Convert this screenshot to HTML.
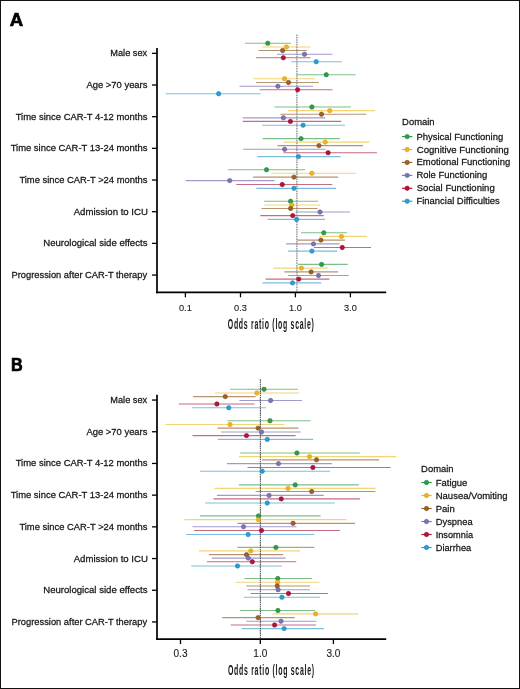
<!DOCTYPE html>
<html><head><meta charset="utf-8"><style>
html,body{margin:0;padding:0;background:#fff;}
body{width:520px;height:689px;overflow:hidden;}
.frame{position:absolute;left:0;top:0;width:520px;height:689px;box-sizing:border-box;border:1px solid #111;background:#fff;}
svg{position:absolute;left:0;top:0;will-change:transform;}
</style></head><body>
<div class="frame"></div>
<svg width="520" height="689" viewBox="0 0 520 689">
<text transform="translate(9.85,25.5) scale(1.0,1)" font-family="Liberation Sans" font-weight="bold" font-size="18.6" fill="#000" stroke="#000" stroke-width="0.7">A</text>
<line x1="245" y1="43.25" x2="291" y2="43.25" stroke="#7cbf86" stroke-width="1.15"/>
<line x1="262.5" y1="47" x2="310.6" y2="47" stroke="#f3d476" stroke-width="1.15"/>
<line x1="258.5" y1="50.5" x2="306.9" y2="50.5" stroke="#b69370" stroke-width="1.15"/>
<line x1="276.9" y1="54.25" x2="332.5" y2="54.25" stroke="#a09acc" stroke-width="1.15"/>
<line x1="256" y1="57.75" x2="310.6" y2="57.75" stroke="#c66b82" stroke-width="1.15"/>
<line x1="291.25" y1="61.75" x2="341.9" y2="61.75" stroke="#7abfdf" stroke-width="1.15"/>
<line x1="296.9" y1="74.75" x2="355.6" y2="74.75" stroke="#7cbf86" stroke-width="1.15"/>
<line x1="253.5" y1="78.75" x2="315" y2="78.75" stroke="#f3d476" stroke-width="1.15"/>
<line x1="256" y1="82.5" x2="318.75" y2="82.5" stroke="#b69370" stroke-width="1.15"/>
<line x1="239.4" y1="86.25" x2="313.1" y2="86.25" stroke="#a09acc" stroke-width="1.15"/>
<line x1="259.75" y1="89.75" x2="332.5" y2="89.75" stroke="#c66b82" stroke-width="1.15"/>
<line x1="165.8" y1="93.75" x2="260.6" y2="93.75" stroke="#7abfdf" stroke-width="1.15"/>
<line x1="274.4" y1="107" x2="351" y2="107" stroke="#7cbf86" stroke-width="1.15"/>
<line x1="288.1" y1="110.6" x2="375" y2="110.6" stroke="#f3d476" stroke-width="1.15"/>
<line x1="280.25" y1="114.2" x2="366.25" y2="114.2" stroke="#b69370" stroke-width="1.15"/>
<line x1="242.75" y1="117.8" x2="325.25" y2="117.8" stroke="#a09acc" stroke-width="1.15"/>
<line x1="242.75" y1="121.4" x2="341.25" y2="121.4" stroke="#c66b82" stroke-width="1.15"/>
<line x1="262.25" y1="125.2" x2="345" y2="125.2" stroke="#7abfdf" stroke-width="1.15"/>
<line x1="262.75" y1="138.6" x2="339.75" y2="138.6" stroke="#7cbf86" stroke-width="1.15"/>
<line x1="283.5" y1="142.1" x2="369.4" y2="142.1" stroke="#f3d476" stroke-width="1.15"/>
<line x1="277.5" y1="145.6" x2="363.1" y2="145.6" stroke="#b69370" stroke-width="1.15"/>
<line x1="243.1" y1="149.25" x2="325.6" y2="149.25" stroke="#a09acc" stroke-width="1.15"/>
<line x1="283.5" y1="152.75" x2="376.9" y2="152.75" stroke="#c66b82" stroke-width="1.15"/>
<line x1="257.25" y1="156.6" x2="340.6" y2="156.6" stroke="#7abfdf" stroke-width="1.15"/>
<line x1="228.1" y1="169.75" x2="305" y2="169.75" stroke="#7cbf86" stroke-width="1.15"/>
<line x1="271.25" y1="173.25" x2="355.6" y2="173.25" stroke="#f3d476" stroke-width="1.15"/>
<line x1="253.1" y1="177.1" x2="338.1" y2="177.1" stroke="#b69370" stroke-width="1.15"/>
<line x1="185.6" y1="180.6" x2="274.4" y2="180.6" stroke="#a09acc" stroke-width="1.15"/>
<line x1="236.25" y1="184.5" x2="332.25" y2="184.5" stroke="#c66b82" stroke-width="1.15"/>
<line x1="256.25" y1="188.3" x2="336" y2="188.3" stroke="#7abfdf" stroke-width="1.15"/>
<line x1="264" y1="201.25" x2="318.1" y2="201.25" stroke="#7cbf86" stroke-width="1.15"/>
<line x1="264.4" y1="205" x2="320" y2="205" stroke="#f3d476" stroke-width="1.15"/>
<line x1="261.5" y1="208.5" x2="317.5" y2="208.5" stroke="#b69370" stroke-width="1.15"/>
<line x1="295.6" y1="212" x2="350" y2="212" stroke="#a09acc" stroke-width="1.15"/>
<line x1="260.25" y1="215.6" x2="323.75" y2="215.6" stroke="#c66b82" stroke-width="1.15"/>
<line x1="267.5" y1="219.4" x2="325" y2="219.4" stroke="#7abfdf" stroke-width="1.15"/>
<line x1="301" y1="232.75" x2="346.9" y2="232.75" stroke="#7cbf86" stroke-width="1.15"/>
<line x1="319.4" y1="236.4" x2="366.9" y2="236.4" stroke="#f3d476" stroke-width="1.15"/>
<line x1="297.25" y1="240.1" x2="345" y2="240.1" stroke="#b69370" stroke-width="1.15"/>
<line x1="286" y1="243.9" x2="339.75" y2="243.9" stroke="#a09acc" stroke-width="1.15"/>
<line x1="314" y1="247.5" x2="371" y2="247.5" stroke="#c66b82" stroke-width="1.15"/>
<line x1="288.1" y1="251.1" x2="337.25" y2="251.1" stroke="#7abfdf" stroke-width="1.15"/>
<line x1="298.1" y1="264.4" x2="347.75" y2="264.4" stroke="#7cbf86" stroke-width="1.15"/>
<line x1="273.1" y1="268.1" x2="327.75" y2="268.1" stroke="#f3d476" stroke-width="1.15"/>
<line x1="284.4" y1="271.9" x2="338.1" y2="271.9" stroke="#b69370" stroke-width="1.15"/>
<line x1="288.1" y1="275.5" x2="348.75" y2="275.5" stroke="#a09acc" stroke-width="1.15"/>
<line x1="265.6" y1="279.1" x2="329.4" y2="279.1" stroke="#c66b82" stroke-width="1.15"/>
<line x1="262.5" y1="282.9" x2="321.25" y2="282.9" stroke="#7abfdf" stroke-width="1.15"/>
<line x1="296.9" y1="34.4" x2="296.9" y2="292.3" stroke="#7c7c7c" stroke-width="1.15" stroke-dasharray="1.6,0.8"/>
<circle cx="267.75" cy="43.25" r="2.2" fill="#2e9e4c" stroke="#23803c" stroke-width="0.6"/>
<circle cx="286.5" cy="47" r="2.2" fill="#f0b323" stroke="#d99d12" stroke-width="0.6"/>
<circle cx="282.6" cy="50.5" r="2.2" fill="#9a6226" stroke="#7e4e1c" stroke-width="0.6"/>
<circle cx="304.5" cy="54.25" r="2.2" fill="#7d74b4" stroke="#655e9e" stroke-width="0.6"/>
<circle cx="283.3" cy="57.75" r="2.2" fill="#b4123a" stroke="#920d2e" stroke-width="0.6"/>
<circle cx="316.25" cy="61.75" r="2.2" fill="#2b9dd2" stroke="#1f86b8" stroke-width="0.6"/>
<circle cx="326.25" cy="74.75" r="2.2" fill="#2e9e4c" stroke="#23803c" stroke-width="0.6"/>
<circle cx="284.6" cy="78.75" r="2.2" fill="#f0b323" stroke="#d99d12" stroke-width="0.6"/>
<circle cx="288.5" cy="82.5" r="2.2" fill="#9a6226" stroke="#7e4e1c" stroke-width="0.6"/>
<circle cx="277.9" cy="86.25" r="2.2" fill="#7d74b4" stroke="#655e9e" stroke-width="0.6"/>
<circle cx="297.6" cy="89.75" r="2.2" fill="#b4123a" stroke="#920d2e" stroke-width="0.6"/>
<circle cx="218.65" cy="93.75" r="2.2" fill="#2b9dd2" stroke="#1f86b8" stroke-width="0.6"/>
<circle cx="311.9" cy="107" r="2.2" fill="#2e9e4c" stroke="#23803c" stroke-width="0.6"/>
<circle cx="329.75" cy="110.6" r="2.2" fill="#f0b323" stroke="#d99d12" stroke-width="0.6"/>
<circle cx="321.5" cy="114.2" r="2.2" fill="#9a6226" stroke="#7e4e1c" stroke-width="0.6"/>
<circle cx="283.4" cy="117.8" r="2.2" fill="#7d74b4" stroke="#655e9e" stroke-width="0.6"/>
<circle cx="290.4" cy="121.4" r="2.2" fill="#b4123a" stroke="#920d2e" stroke-width="0.6"/>
<circle cx="303.1" cy="125.2" r="2.2" fill="#2b9dd2" stroke="#1f86b8" stroke-width="0.6"/>
<circle cx="301" cy="138.6" r="2.2" fill="#2e9e4c" stroke="#23803c" stroke-width="0.6"/>
<circle cx="325.25" cy="142.1" r="2.2" fill="#f0b323" stroke="#d99d12" stroke-width="0.6"/>
<circle cx="319" cy="145.6" r="2.2" fill="#9a6226" stroke="#7e4e1c" stroke-width="0.6"/>
<circle cx="284.6" cy="149.25" r="2.2" fill="#7d74b4" stroke="#655e9e" stroke-width="0.6"/>
<circle cx="328.1" cy="152.75" r="2.2" fill="#b4123a" stroke="#920d2e" stroke-width="0.6"/>
<circle cx="298.5" cy="156.6" r="2.2" fill="#2b9dd2" stroke="#1f86b8" stroke-width="0.6"/>
<circle cx="266.5" cy="169.75" r="2.2" fill="#2e9e4c" stroke="#23803c" stroke-width="0.6"/>
<circle cx="311.9" cy="173.25" r="2.2" fill="#f0b323" stroke="#d99d12" stroke-width="0.6"/>
<circle cx="294" cy="177.1" r="2.2" fill="#9a6226" stroke="#7e4e1c" stroke-width="0.6"/>
<circle cx="229.75" cy="180.6" r="2.2" fill="#7d74b4" stroke="#655e9e" stroke-width="0.6"/>
<circle cx="282.25" cy="184.5" r="2.2" fill="#b4123a" stroke="#920d2e" stroke-width="0.6"/>
<circle cx="294" cy="188.3" r="2.2" fill="#2b9dd2" stroke="#1f86b8" stroke-width="0.6"/>
<circle cx="290.6" cy="201.25" r="2.2" fill="#2e9e4c" stroke="#23803c" stroke-width="0.6"/>
<circle cx="291.9" cy="205" r="2.2" fill="#f0b323" stroke="#d99d12" stroke-width="0.6"/>
<circle cx="290.6" cy="208.5" r="2.2" fill="#9a6226" stroke="#7e4e1c" stroke-width="0.6"/>
<circle cx="320" cy="212" r="2.2" fill="#7d74b4" stroke="#655e9e" stroke-width="0.6"/>
<circle cx="292.75" cy="215.6" r="2.2" fill="#b4123a" stroke="#920d2e" stroke-width="0.6"/>
<circle cx="296.6" cy="219.4" r="2.2" fill="#2b9dd2" stroke="#1f86b8" stroke-width="0.6"/>
<circle cx="323.75" cy="232.75" r="2.2" fill="#2e9e4c" stroke="#23803c" stroke-width="0.6"/>
<circle cx="341.5" cy="236.4" r="2.2" fill="#f0b323" stroke="#d99d12" stroke-width="0.6"/>
<circle cx="320.9" cy="240.1" r="2.2" fill="#9a6226" stroke="#7e4e1c" stroke-width="0.6"/>
<circle cx="313.5" cy="243.9" r="2.2" fill="#7d74b4" stroke="#655e9e" stroke-width="0.6"/>
<circle cx="342.25" cy="247.5" r="2.2" fill="#b4123a" stroke="#920d2e" stroke-width="0.6"/>
<circle cx="311.9" cy="251.1" r="2.2" fill="#2b9dd2" stroke="#1f86b8" stroke-width="0.6"/>
<circle cx="321.6" cy="264.4" r="2.2" fill="#2e9e4c" stroke="#23803c" stroke-width="0.6"/>
<circle cx="301.4" cy="268.1" r="2.2" fill="#f0b323" stroke="#d99d12" stroke-width="0.6"/>
<circle cx="311.1" cy="271.9" r="2.2" fill="#9a6226" stroke="#7e4e1c" stroke-width="0.6"/>
<circle cx="318.5" cy="275.5" r="2.2" fill="#7d74b4" stroke="#655e9e" stroke-width="0.6"/>
<circle cx="298.75" cy="279.1" r="2.2" fill="#b4123a" stroke="#920d2e" stroke-width="0.6"/>
<circle cx="292.5" cy="282.9" r="2.2" fill="#2b9dd2" stroke="#1f86b8" stroke-width="0.6"/>
<line x1="157.0" y1="48.1" x2="157.0" y2="293.15000000000003" stroke="#000" stroke-width="1.7"/>
<line x1="156.15" y1="292.3" x2="386.2" y2="292.3" stroke="#000" stroke-width="1.7"/>
<line x1="152" y1="53.35" x2="157.0" y2="53.35" stroke="#000" stroke-width="1.3"/>
<text transform="translate(110.24,56.35) scale(1,1.05)" text-anchor="start" textLength="36.97" lengthAdjust="spacingAndGlyphs" font-family="Liberation Sans" font-size="9.45" fill="#161616" stroke="#161616" stroke-width="0.25">Male sex</text>
<line x1="152" y1="85.02" x2="157.0" y2="85.02" stroke="#000" stroke-width="1.3"/>
<text transform="translate(86.48,88.02) scale(1,1.05)" text-anchor="start" textLength="60.96" lengthAdjust="spacingAndGlyphs" font-family="Liberation Sans" font-size="9.45" fill="#161616" stroke="#161616" stroke-width="0.25">Age &gt;70 years</text>
<line x1="152" y1="116.69" x2="157.0" y2="116.69" stroke="#000" stroke-width="1.3"/>
<text transform="translate(15.69,119.69) scale(1,1.05)" text-anchor="start" textLength="131.76" lengthAdjust="spacingAndGlyphs" font-family="Liberation Sans" font-size="9.45" fill="#161616" stroke="#161616" stroke-width="0.25">Time since CAR-T 4-12 months</text>
<line x1="152" y1="148.36" x2="157.0" y2="148.36" stroke="#000" stroke-width="1.3"/>
<text transform="translate(10.64,151.36) scale(1,1.05)" text-anchor="start" textLength="136.81" lengthAdjust="spacingAndGlyphs" font-family="Liberation Sans" font-size="9.45" fill="#161616" stroke="#161616" stroke-width="0.25">Time since CAR-T 13-24 months</text>
<line x1="152" y1="180.03" x2="157.0" y2="180.03" stroke="#000" stroke-width="1.3"/>
<text transform="translate(19.39,183.03) scale(1,1.05)" text-anchor="start" textLength="128.05" lengthAdjust="spacingAndGlyphs" font-family="Liberation Sans" font-size="9.45" fill="#161616" stroke="#161616" stroke-width="0.25">Time since CAR-T &gt;24 months</text>
<line x1="152" y1="211.70" x2="157.0" y2="211.70" stroke="#000" stroke-width="1.3"/>
<text transform="translate(73.68,214.70) scale(1,1.05)" text-anchor="start" textLength="74.17" lengthAdjust="spacingAndGlyphs" font-family="Liberation Sans" font-size="9.45" fill="#161616" stroke="#161616" stroke-width="0.25">Admission to ICU</text>
<line x1="152" y1="243.37" x2="157.0" y2="243.37" stroke="#000" stroke-width="1.3"/>
<text transform="translate(43.21,246.37) scale(1,1.05)" text-anchor="start" textLength="104.24" lengthAdjust="spacingAndGlyphs" font-family="Liberation Sans" font-size="9.45" fill="#161616" stroke="#161616" stroke-width="0.25">Neurological side effects</text>
<line x1="152" y1="275.04" x2="157.0" y2="275.04" stroke="#000" stroke-width="1.3"/>
<text transform="translate(11.54,278.04) scale(1,1.05)" text-anchor="start" textLength="135.59" lengthAdjust="spacingAndGlyphs" font-family="Liberation Sans" font-size="9.45" fill="#161616" stroke="#161616" stroke-width="0.25">Progression after CAR-T therapy</text>
<line x1="185.4" y1="292.3" x2="185.4" y2="297.3" stroke="#000" stroke-width="1.3"/>
<text transform="translate(185.40,310.80) scale(0.940,1)" text-anchor="middle" font-family="Liberation Sans" font-size="9.80" fill="#161616" stroke="#161616" stroke-width="0.1">0.1</text>
<line x1="240.5" y1="292.3" x2="240.5" y2="297.3" stroke="#000" stroke-width="1.3"/>
<text transform="translate(240.50,310.80) scale(0.940,1)" text-anchor="middle" font-family="Liberation Sans" font-size="9.80" fill="#161616" stroke="#161616" stroke-width="0.1">0.3</text>
<line x1="295.4" y1="292.3" x2="295.4" y2="297.3" stroke="#000" stroke-width="1.3"/>
<text transform="translate(295.40,310.80) scale(0.940,1)" text-anchor="middle" font-family="Liberation Sans" font-size="9.80" fill="#161616" stroke="#161616" stroke-width="0.1">1.0</text>
<line x1="350.4" y1="292.3" x2="350.4" y2="297.3" stroke="#000" stroke-width="1.3"/>
<text transform="translate(350.40,310.80) scale(0.940,1)" text-anchor="middle" font-family="Liberation Sans" font-size="9.80" fill="#161616" stroke="#161616" stroke-width="0.1">3.0</text>
<text x="0" y="0" transform="translate(271.2,328.5) scale(0.5,1)" text-anchor="middle" font-family="Liberation Sans" font-weight="bold" font-size="13.9" letter-spacing="1.45" fill="#161616">Odds ratio (log scale)</text>
<text transform="translate(402.10,124.80) scale(1,1.05)" text-anchor="start"  font-family="Liberation Sans" font-size="9.45" fill="#161616" stroke="#161616" stroke-width="0.25">Domain</text>
<line x1="401.95" y1="136.60" x2="412.34999999999997" y2="136.60" stroke="#2e9e4c" stroke-width="1.15"/>
<circle cx="407.15" cy="136.60" r="2.2" fill="#2e9e4c" stroke="#23803c" stroke-width="0.6"/>
<text transform="translate(416.42,139.60) scale(1,1.05)" text-anchor="start" textLength="86.80" lengthAdjust="spacingAndGlyphs" font-family="Liberation Sans" font-size="9.45" fill="#161616" stroke="#161616" stroke-width="0.25">Physical Functioning</text>
<line x1="401.95" y1="149.52" x2="412.34999999999997" y2="149.52" stroke="#f0b323" stroke-width="1.15"/>
<circle cx="407.15" cy="149.52" r="2.2" fill="#f0b323" stroke="#d99d12" stroke-width="0.6"/>
<text transform="translate(416.71,152.52) scale(1,1.05)" text-anchor="start" textLength="92.21" lengthAdjust="spacingAndGlyphs" font-family="Liberation Sans" font-size="9.45" fill="#161616" stroke="#161616" stroke-width="0.25">Cognitive Functioning</text>
<line x1="401.95" y1="162.44" x2="412.34999999999997" y2="162.44" stroke="#9a6226" stroke-width="1.15"/>
<circle cx="407.15" cy="162.44" r="2.2" fill="#9a6226" stroke="#7e4e1c" stroke-width="0.6"/>
<text transform="translate(416.42,165.44) scale(1,1.05)" text-anchor="start" textLength="93.80" lengthAdjust="spacingAndGlyphs" font-family="Liberation Sans" font-size="9.45" fill="#161616" stroke="#161616" stroke-width="0.25">Emotional Functioning</text>
<line x1="401.95" y1="175.36" x2="412.34999999999997" y2="175.36" stroke="#7d74b4" stroke-width="1.15"/>
<circle cx="407.15" cy="175.36" r="2.2" fill="#7d74b4" stroke="#655e9e" stroke-width="0.6"/>
<text transform="translate(416.43,178.36) scale(1,1.05)" text-anchor="start" textLength="70.89" lengthAdjust="spacingAndGlyphs" font-family="Liberation Sans" font-size="9.45" fill="#161616" stroke="#161616" stroke-width="0.25">Role Functioning</text>
<line x1="401.95" y1="188.28" x2="412.34999999999997" y2="188.28" stroke="#b4123a" stroke-width="1.15"/>
<circle cx="407.15" cy="188.28" r="2.2" fill="#b4123a" stroke="#920d2e" stroke-width="0.6"/>
<text transform="translate(416.76,191.28) scale(1,1.05)" text-anchor="start" textLength="77.96" lengthAdjust="spacingAndGlyphs" font-family="Liberation Sans" font-size="9.45" fill="#161616" stroke="#161616" stroke-width="0.25">Social Functioning</text>
<line x1="401.95" y1="201.20" x2="412.34999999999997" y2="201.20" stroke="#2b9dd2" stroke-width="1.15"/>
<circle cx="407.15" cy="201.20" r="2.2" fill="#2b9dd2" stroke="#1f86b8" stroke-width="0.6"/>
<text transform="translate(416.43,204.20) scale(1,1.05)" text-anchor="start" textLength="83.33" lengthAdjust="spacingAndGlyphs" font-family="Liberation Sans" font-size="9.45" fill="#161616" stroke="#161616" stroke-width="0.25">Financial Difficulties</text>
<text transform="translate(10.9,371.0) scale(0.9,1)" font-family="Liberation Sans" font-weight="bold" font-size="18.0" fill="#000" stroke="#000" stroke-width="0.7">B</text>
<line x1="230.25" y1="389.25" x2="297.75" y2="389.25" stroke="#7cbf86" stroke-width="1.15"/>
<line x1="215" y1="393" x2="299.4" y2="393" stroke="#f3d476" stroke-width="1.15"/>
<line x1="193.1" y1="396.6" x2="255.6" y2="396.6" stroke="#b69370" stroke-width="1.15"/>
<line x1="239.4" y1="400.5" x2="301.9" y2="400.5" stroke="#a09acc" stroke-width="1.15"/>
<line x1="178.75" y1="404" x2="254.5" y2="404" stroke="#c66b82" stroke-width="1.15"/>
<line x1="191.9" y1="407.75" x2="266" y2="407.75" stroke="#7abfdf" stroke-width="1.15"/>
<line x1="227.25" y1="420.75" x2="310.6" y2="420.75" stroke="#7cbf86" stroke-width="1.15"/>
<line x1="165.6" y1="424.5" x2="284.4" y2="424.5" stroke="#f3d476" stroke-width="1.15"/>
<line x1="217.5" y1="428.1" x2="298.5" y2="428.1" stroke="#b69370" stroke-width="1.15"/>
<line x1="221.25" y1="432" x2="300.6" y2="432" stroke="#a09acc" stroke-width="1.15"/>
<line x1="192.5" y1="435.6" x2="295.6" y2="435.6" stroke="#c66b82" stroke-width="1.15"/>
<line x1="217.75" y1="439.4" x2="313.1" y2="439.4" stroke="#7abfdf" stroke-width="1.15"/>
<line x1="240.25" y1="453" x2="359.75" y2="453" stroke="#7cbf86" stroke-width="1.15"/>
<line x1="239" y1="456.6" x2="396.25" y2="456.6" stroke="#f3d476" stroke-width="1.15"/>
<line x1="261.9" y1="459.8" x2="379" y2="459.8" stroke="#b69370" stroke-width="1.15"/>
<line x1="226.9" y1="463.6" x2="331.9" y2="463.6" stroke="#a09acc" stroke-width="1.15"/>
<line x1="247.5" y1="467.5" x2="390.6" y2="467.5" stroke="#c66b82" stroke-width="1.15"/>
<line x1="200" y1="471.2" x2="330" y2="471.2" stroke="#7abfdf" stroke-width="1.15"/>
<line x1="238.75" y1="484.9" x2="358.75" y2="484.9" stroke="#7cbf86" stroke-width="1.15"/>
<line x1="214.4" y1="488.4" x2="375.6" y2="488.4" stroke="#f3d476" stroke-width="1.15"/>
<line x1="255.6" y1="491.5" x2="375.25" y2="491.5" stroke="#b69370" stroke-width="1.15"/>
<line x1="216.9" y1="495.4" x2="323.75" y2="495.4" stroke="#a09acc" stroke-width="1.15"/>
<line x1="213.5" y1="498.9" x2="360.1" y2="498.9" stroke="#c66b82" stroke-width="1.15"/>
<line x1="205.25" y1="503" x2="334.75" y2="503" stroke="#7abfdf" stroke-width="1.15"/>
<line x1="200" y1="515.9" x2="320.6" y2="515.9" stroke="#7cbf86" stroke-width="1.15"/>
<line x1="184.4" y1="519.6" x2="346.25" y2="519.6" stroke="#f3d476" stroke-width="1.15"/>
<line x1="237.5" y1="523.3" x2="355" y2="523.3" stroke="#b69370" stroke-width="1.15"/>
<line x1="192.5" y1="526.75" x2="296.5" y2="526.75" stroke="#a09acc" stroke-width="1.15"/>
<line x1="194" y1="530.5" x2="340" y2="530.5" stroke="#c66b82" stroke-width="1.15"/>
<line x1="186" y1="534.5" x2="314.4" y2="534.5" stroke="#7abfdf" stroke-width="1.15"/>
<line x1="237.25" y1="547.4" x2="314.4" y2="547.4" stroke="#7cbf86" stroke-width="1.15"/>
<line x1="199" y1="550.9" x2="300" y2="550.9" stroke="#f3d476" stroke-width="1.15"/>
<line x1="209" y1="554.6" x2="283.1" y2="554.6" stroke="#b69370" stroke-width="1.15"/>
<line x1="211.9" y1="558.1" x2="285.6" y2="558.1" stroke="#a09acc" stroke-width="1.15"/>
<line x1="206.9" y1="561.75" x2="296.25" y2="561.75" stroke="#c66b82" stroke-width="1.15"/>
<line x1="191.25" y1="566" x2="281.9" y2="566" stroke="#7abfdf" stroke-width="1.15"/>
<line x1="244.4" y1="578.5" x2="311.9" y2="578.5" stroke="#7cbf86" stroke-width="1.15"/>
<line x1="235.6" y1="582.25" x2="319.4" y2="582.25" stroke="#f3d476" stroke-width="1.15"/>
<line x1="246.25" y1="586" x2="310" y2="586" stroke="#b69370" stroke-width="1.15"/>
<line x1="247.5" y1="589.75" x2="309.75" y2="589.75" stroke="#a09acc" stroke-width="1.15"/>
<line x1="250.6" y1="593.5" x2="328.1" y2="593.5" stroke="#c66b82" stroke-width="1.15"/>
<line x1="243.75" y1="597.25" x2="320" y2="597.25" stroke="#7abfdf" stroke-width="1.15"/>
<line x1="240" y1="610.5" x2="315" y2="610.5" stroke="#7cbf86" stroke-width="1.15"/>
<line x1="272.5" y1="613.9" x2="358.1" y2="613.9" stroke="#f3d476" stroke-width="1.15"/>
<line x1="222.25" y1="617.6" x2="294.75" y2="617.6" stroke="#b69370" stroke-width="1.15"/>
<line x1="246.25" y1="621.2" x2="316.5" y2="621.2" stroke="#a09acc" stroke-width="1.15"/>
<line x1="230.6" y1="625" x2="316" y2="625" stroke="#c66b82" stroke-width="1.15"/>
<line x1="241.9" y1="628.6" x2="324" y2="628.6" stroke="#7abfdf" stroke-width="1.15"/>
<line x1="260.4" y1="379.3" x2="260.4" y2="639.1" stroke="#606060" stroke-width="1.15" stroke-dasharray="1.6,0.6"/>
<circle cx="264" cy="389.25" r="2.2" fill="#2e9e4c" stroke="#23803c" stroke-width="0.6"/>
<circle cx="256.9" cy="393" r="2.2" fill="#f0b323" stroke="#d99d12" stroke-width="0.6"/>
<circle cx="225.25" cy="396.6" r="2.2" fill="#9a6226" stroke="#7e4e1c" stroke-width="0.6"/>
<circle cx="270.6" cy="400.5" r="2.2" fill="#7d74b4" stroke="#655e9e" stroke-width="0.6"/>
<circle cx="216.9" cy="404" r="2.2" fill="#b4123a" stroke="#920d2e" stroke-width="0.6"/>
<circle cx="228.75" cy="407.75" r="2.2" fill="#2b9dd2" stroke="#1f86b8" stroke-width="0.6"/>
<circle cx="270" cy="420.75" r="2.2" fill="#2e9e4c" stroke="#23803c" stroke-width="0.6"/>
<circle cx="230" cy="424.5" r="2.2" fill="#f0b323" stroke="#d99d12" stroke-width="0.6"/>
<circle cx="258.1" cy="428.1" r="2.2" fill="#9a6226" stroke="#7e4e1c" stroke-width="0.6"/>
<circle cx="261.5" cy="432" r="2.2" fill="#7d74b4" stroke="#655e9e" stroke-width="0.6"/>
<circle cx="246.5" cy="435.6" r="2.2" fill="#b4123a" stroke="#920d2e" stroke-width="0.6"/>
<circle cx="267.25" cy="439.4" r="2.2" fill="#2b9dd2" stroke="#1f86b8" stroke-width="0.6"/>
<circle cx="296.9" cy="453" r="2.2" fill="#2e9e4c" stroke="#23803c" stroke-width="0.6"/>
<circle cx="309.6" cy="456.6" r="2.2" fill="#f0b323" stroke="#d99d12" stroke-width="0.6"/>
<circle cx="316.5" cy="459.8" r="2.2" fill="#9a6226" stroke="#7e4e1c" stroke-width="0.6"/>
<circle cx="278.5" cy="463.6" r="2.2" fill="#7d74b4" stroke="#655e9e" stroke-width="0.6"/>
<circle cx="312.9" cy="467.5" r="2.2" fill="#b4123a" stroke="#920d2e" stroke-width="0.6"/>
<circle cx="262.25" cy="471.2" r="2.2" fill="#2b9dd2" stroke="#1f86b8" stroke-width="0.6"/>
<circle cx="295.25" cy="484.9" r="2.2" fill="#2e9e4c" stroke="#23803c" stroke-width="0.6"/>
<circle cx="288.1" cy="488.4" r="2.2" fill="#f0b323" stroke="#d99d12" stroke-width="0.6"/>
<circle cx="311.7" cy="491.5" r="2.2" fill="#9a6226" stroke="#7e4e1c" stroke-width="0.6"/>
<circle cx="269.1" cy="495.4" r="2.2" fill="#7d74b4" stroke="#655e9e" stroke-width="0.6"/>
<circle cx="281.25" cy="498.9" r="2.2" fill="#b4123a" stroke="#920d2e" stroke-width="0.6"/>
<circle cx="267.25" cy="503" r="2.2" fill="#2b9dd2" stroke="#1f86b8" stroke-width="0.6"/>
<circle cx="258.5" cy="515.9" r="2.2" fill="#2e9e4c" stroke="#23803c" stroke-width="0.6"/>
<circle cx="258.5" cy="519.6" r="2.2" fill="#f0b323" stroke="#d99d12" stroke-width="0.6"/>
<circle cx="293.1" cy="523.3" r="2.2" fill="#9a6226" stroke="#7e4e1c" stroke-width="0.6"/>
<circle cx="243.5" cy="526.75" r="2.2" fill="#7d74b4" stroke="#655e9e" stroke-width="0.6"/>
<circle cx="261.5" cy="530.5" r="2.2" fill="#b4123a" stroke="#920d2e" stroke-width="0.6"/>
<circle cx="248.1" cy="534.5" r="2.2" fill="#2b9dd2" stroke="#1f86b8" stroke-width="0.6"/>
<circle cx="275.9" cy="547.4" r="2.2" fill="#2e9e4c" stroke="#23803c" stroke-width="0.6"/>
<circle cx="250.75" cy="550.9" r="2.2" fill="#f0b323" stroke="#d99d12" stroke-width="0.6"/>
<circle cx="246.5" cy="554.6" r="2.2" fill="#9a6226" stroke="#7e4e1c" stroke-width="0.6"/>
<circle cx="248.3" cy="558.1" r="2.2" fill="#7d74b4" stroke="#655e9e" stroke-width="0.6"/>
<circle cx="252.3" cy="561.75" r="2.2" fill="#b4123a" stroke="#920d2e" stroke-width="0.6"/>
<circle cx="237.5" cy="566" r="2.2" fill="#2b9dd2" stroke="#1f86b8" stroke-width="0.6"/>
<circle cx="277.75" cy="578.5" r="2.2" fill="#2e9e4c" stroke="#23803c" stroke-width="0.6"/>
<circle cx="277.5" cy="582.25" r="2.2" fill="#f0b323" stroke="#d99d12" stroke-width="0.6"/>
<circle cx="277.25" cy="586" r="2.2" fill="#9a6226" stroke="#7e4e1c" stroke-width="0.6"/>
<circle cx="278.1" cy="589.75" r="2.2" fill="#7d74b4" stroke="#655e9e" stroke-width="0.6"/>
<circle cx="288.5" cy="593.5" r="2.2" fill="#b4123a" stroke="#920d2e" stroke-width="0.6"/>
<circle cx="281.9" cy="597.25" r="2.2" fill="#2b9dd2" stroke="#1f86b8" stroke-width="0.6"/>
<circle cx="277.9" cy="610.5" r="2.2" fill="#2e9e4c" stroke="#23803c" stroke-width="0.6"/>
<circle cx="315.6" cy="613.9" r="2.2" fill="#f0b323" stroke="#d99d12" stroke-width="0.6"/>
<circle cx="258.1" cy="617.6" r="2.2" fill="#9a6226" stroke="#7e4e1c" stroke-width="0.6"/>
<circle cx="281" cy="621.2" r="2.2" fill="#7d74b4" stroke="#655e9e" stroke-width="0.6"/>
<circle cx="274.6" cy="625" r="2.2" fill="#b4123a" stroke="#920d2e" stroke-width="0.6"/>
<circle cx="284.1" cy="628.6" r="2.2" fill="#2b9dd2" stroke="#1f86b8" stroke-width="0.6"/>
<line x1="157.0" y1="394.65" x2="157.0" y2="639.95" stroke="#000" stroke-width="1.7"/>
<line x1="156.15" y1="639.1" x2="386.2" y2="639.1" stroke="#000" stroke-width="1.7"/>
<line x1="152" y1="400.05" x2="157.0" y2="400.05" stroke="#000" stroke-width="1.3"/>
<text transform="translate(110.24,403.05) scale(1,1.05)" text-anchor="start" textLength="36.97" lengthAdjust="spacingAndGlyphs" font-family="Liberation Sans" font-size="9.45" fill="#161616" stroke="#161616" stroke-width="0.25">Male sex</text>
<line x1="152" y1="431.75" x2="157.0" y2="431.75" stroke="#000" stroke-width="1.3"/>
<text transform="translate(86.48,434.75) scale(1,1.05)" text-anchor="start" textLength="60.96" lengthAdjust="spacingAndGlyphs" font-family="Liberation Sans" font-size="9.45" fill="#161616" stroke="#161616" stroke-width="0.25">Age &gt;70 years</text>
<line x1="152" y1="463.45" x2="157.0" y2="463.45" stroke="#000" stroke-width="1.3"/>
<text transform="translate(15.69,466.45) scale(1,1.05)" text-anchor="start" textLength="131.76" lengthAdjust="spacingAndGlyphs" font-family="Liberation Sans" font-size="9.45" fill="#161616" stroke="#161616" stroke-width="0.25">Time since CAR-T 4-12 months</text>
<line x1="152" y1="495.15" x2="157.0" y2="495.15" stroke="#000" stroke-width="1.3"/>
<text transform="translate(10.64,498.15) scale(1,1.05)" text-anchor="start" textLength="136.81" lengthAdjust="spacingAndGlyphs" font-family="Liberation Sans" font-size="9.45" fill="#161616" stroke="#161616" stroke-width="0.25">Time since CAR-T 13-24 months</text>
<line x1="152" y1="526.85" x2="157.0" y2="526.85" stroke="#000" stroke-width="1.3"/>
<text transform="translate(19.39,529.85) scale(1,1.05)" text-anchor="start" textLength="128.05" lengthAdjust="spacingAndGlyphs" font-family="Liberation Sans" font-size="9.45" fill="#161616" stroke="#161616" stroke-width="0.25">Time since CAR-T &gt;24 months</text>
<line x1="152" y1="558.55" x2="157.0" y2="558.55" stroke="#000" stroke-width="1.3"/>
<text transform="translate(73.68,561.55) scale(1,1.05)" text-anchor="start" textLength="74.17" lengthAdjust="spacingAndGlyphs" font-family="Liberation Sans" font-size="9.45" fill="#161616" stroke="#161616" stroke-width="0.25">Admission to ICU</text>
<line x1="152" y1="590.25" x2="157.0" y2="590.25" stroke="#000" stroke-width="1.3"/>
<text transform="translate(43.21,593.25) scale(1,1.05)" text-anchor="start" textLength="104.24" lengthAdjust="spacingAndGlyphs" font-family="Liberation Sans" font-size="9.45" fill="#161616" stroke="#161616" stroke-width="0.25">Neurological side effects</text>
<line x1="152" y1="621.95" x2="157.0" y2="621.95" stroke="#000" stroke-width="1.3"/>
<text transform="translate(11.54,624.95) scale(1,1.05)" text-anchor="start" textLength="135.59" lengthAdjust="spacingAndGlyphs" font-family="Liberation Sans" font-size="9.45" fill="#161616" stroke="#161616" stroke-width="0.25">Progression after CAR-T therapy</text>
<line x1="180.5" y1="639.1" x2="180.5" y2="644.1" stroke="#000" stroke-width="1.3"/>
<text transform="translate(180.50,657.00) scale(1.000,1)" text-anchor="middle" font-family="Liberation Sans" font-size="10.00" fill="#161616" stroke="#161616" stroke-width="0.1">0.3</text>
<line x1="260.3" y1="639.1" x2="260.3" y2="644.1" stroke="#000" stroke-width="1.3"/>
<text transform="translate(260.30,657.00) scale(1.000,1)" text-anchor="middle" font-family="Liberation Sans" font-size="10.00" fill="#161616" stroke="#161616" stroke-width="0.1">1.0</text>
<line x1="333.4" y1="639.1" x2="333.4" y2="644.1" stroke="#000" stroke-width="1.3"/>
<text transform="translate(333.40,657.00) scale(1.000,1)" text-anchor="middle" font-family="Liberation Sans" font-size="10.00" fill="#161616" stroke="#161616" stroke-width="0.1">3.0</text>
<text x="0" y="0" transform="translate(271.35,675.0) scale(0.5,1)" text-anchor="middle" font-family="Liberation Sans" font-weight="bold" font-size="13.9" letter-spacing="1.45" fill="#161616">Odds ratio (log scale)</text>
<text transform="translate(421.10,471.50) scale(1,1.05)" text-anchor="start"  font-family="Liberation Sans" font-size="9.45" fill="#161616" stroke="#161616" stroke-width="0.25">Domain</text>
<line x1="421.3" y1="482.50" x2="431.7" y2="482.50" stroke="#2e9e4c" stroke-width="1.15"/>
<circle cx="426.5" cy="482.50" r="2.2" fill="#2e9e4c" stroke="#23803c" stroke-width="0.6"/>
<text transform="translate(435.72,485.50) scale(1,1.05)" text-anchor="start" textLength="31.61" lengthAdjust="spacingAndGlyphs" font-family="Liberation Sans" font-size="9.45" fill="#161616" stroke="#161616" stroke-width="0.25">Fatigue</text>
<line x1="421.3" y1="495.50" x2="431.7" y2="495.50" stroke="#f0b323" stroke-width="1.15"/>
<circle cx="426.5" cy="495.50" r="2.2" fill="#f0b323" stroke="#d99d12" stroke-width="0.6"/>
<text transform="translate(435.72,498.50) scale(1,1.05)" text-anchor="start" textLength="71.80" lengthAdjust="spacingAndGlyphs" font-family="Liberation Sans" font-size="9.45" fill="#161616" stroke="#161616" stroke-width="0.25">Nausea/Vomiting</text>
<line x1="421.3" y1="508.50" x2="431.7" y2="508.50" stroke="#9a6226" stroke-width="1.15"/>
<circle cx="426.5" cy="508.50" r="2.2" fill="#9a6226" stroke="#7e4e1c" stroke-width="0.6"/>
<text transform="translate(435.72,511.50) scale(1,1.05)" text-anchor="start" textLength="19.06" lengthAdjust="spacingAndGlyphs" font-family="Liberation Sans" font-size="9.45" fill="#161616" stroke="#161616" stroke-width="0.25">Pain</text>
<line x1="421.3" y1="521.50" x2="431.7" y2="521.50" stroke="#7d74b4" stroke-width="1.15"/>
<circle cx="426.5" cy="521.50" r="2.2" fill="#7d74b4" stroke="#655e9e" stroke-width="0.6"/>
<text transform="translate(435.73,524.50) scale(1,1.05)" text-anchor="start" textLength="36.87" lengthAdjust="spacingAndGlyphs" font-family="Liberation Sans" font-size="9.45" fill="#161616" stroke="#161616" stroke-width="0.25">Dyspnea</text>
<line x1="421.3" y1="534.50" x2="431.7" y2="534.50" stroke="#b4123a" stroke-width="1.15"/>
<circle cx="426.5" cy="534.50" r="2.2" fill="#b4123a" stroke="#920d2e" stroke-width="0.6"/>
<text transform="translate(435.65,537.50) scale(1,1.05)" text-anchor="start" textLength="37.46" lengthAdjust="spacingAndGlyphs" font-family="Liberation Sans" font-size="9.45" fill="#161616" stroke="#161616" stroke-width="0.25">Insomnia</text>
<line x1="421.3" y1="547.50" x2="431.7" y2="547.50" stroke="#2b9dd2" stroke-width="1.15"/>
<circle cx="426.5" cy="547.50" r="2.2" fill="#2b9dd2" stroke="#1f86b8" stroke-width="0.6"/>
<text transform="translate(435.74,550.50) scale(1,1.05)" text-anchor="start" textLength="35.47" lengthAdjust="spacingAndGlyphs" font-family="Liberation Sans" font-size="9.45" fill="#161616" stroke="#161616" stroke-width="0.25">Diarrhea</text>
</svg>
</body></html>
